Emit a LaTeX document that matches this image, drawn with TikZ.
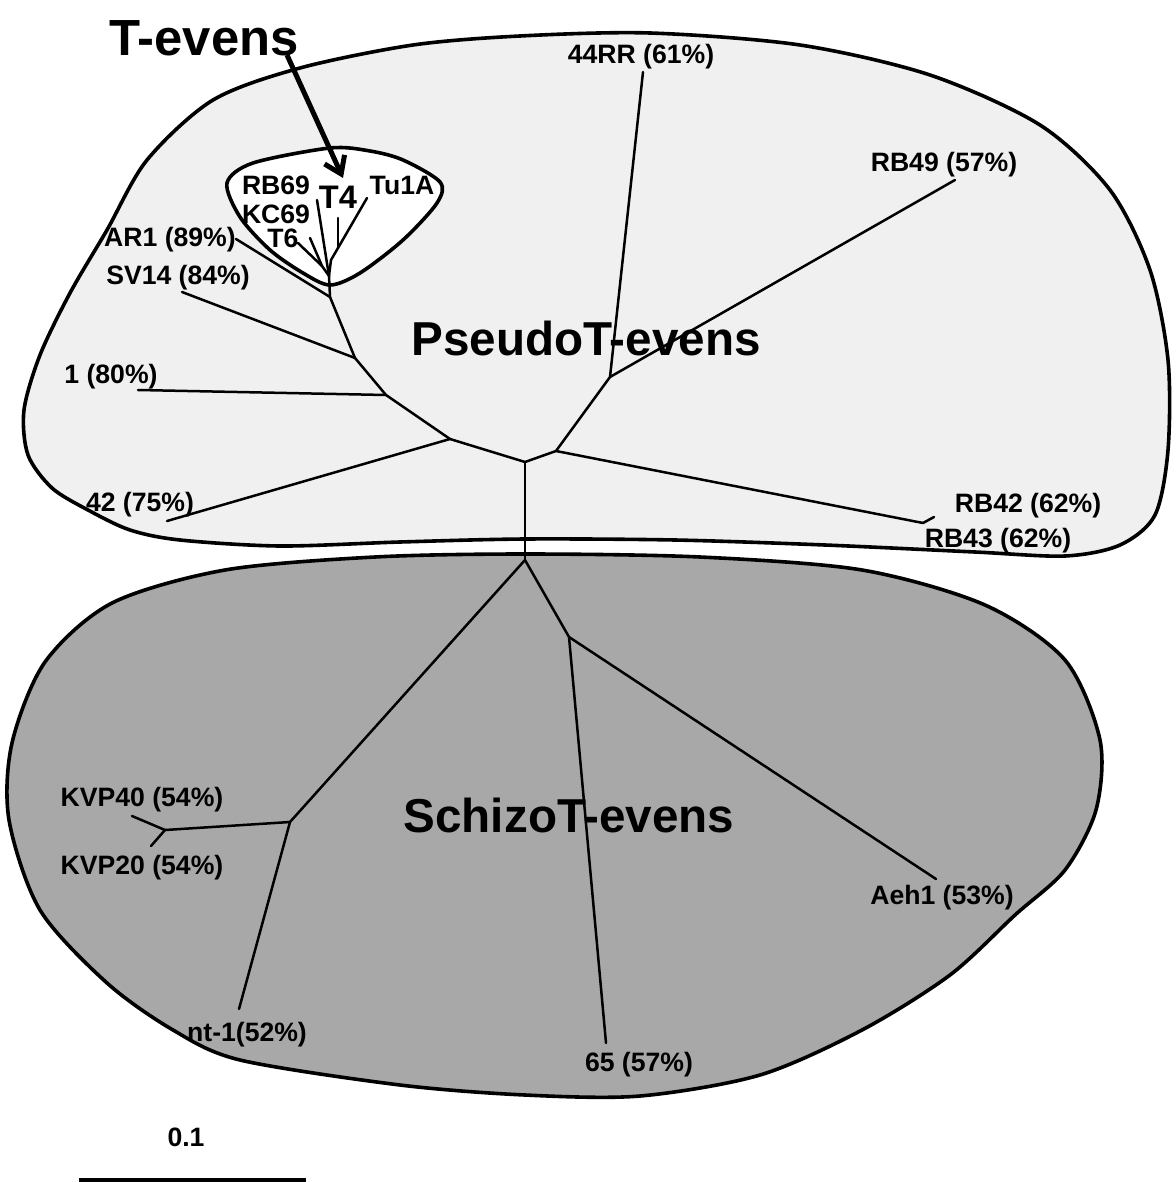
\documentclass[tikz,border=0pt]{standalone}
\usepackage{fontspec}
\setmainfont{Liberation Sans}
\usetikzlibrary{arrows.meta}
\definecolor{pseudofill}{gray}{0.94}
\definecolor{schizofill}{gray}{0.66}
\begin{document}
\begin{tikzpicture}[x=0.5pt,y=-0.5pt,
  branch/.style={line width=1.25pt,line cap=round,line join=round},
  groupline/.style={line width=1.8pt},
  leaf/.style={font=\fontsize{13.3}{15}\selectfont\bfseries,inner sep=0pt},
  clade/.style={font=\fontsize{23.8}{28}\selectfont\bfseries,inner sep=0pt}]
\useasboundingbox (0,0) rectangle (1176,1182);
\fill[white] (0,0) rectangle (1176,1182);
\draw[groupline,fill=schizofill] plot[smooth cycle] coordinates {(525,554) (700,557) (862,570) (985,605) (1065,660) (1100,740) (1096,810) (1065,870) (1015,915) (950,975) (862,1030) (760,1075) (640,1096) (525,1095) (400,1085) (240,1060) (173,1030) (107,983) (40,910) (9,820) (12,743) (45,662) (112,603) (225,570) (375,557)};
\draw[groupline,fill=pseudofill] plot[smooth cycle] coordinates {(147,160) (213,100) (300,68) (413,45) (520,36) (650,33) (800,45) (930,75) (1040,125) (1110,190) (1150,270) (1168,360) (1168,450) (1155,515) (1120,545) (1065,556) (975,552) (825,545) (675,540) (525,539) (400,542) (280,546) (180,540) (130,530) (88,510) (52,488) (28,455) (24,410) (40,355) (70,293) (107,230)};
\draw[groupline,fill=white] plot[smooth cycle] coordinates {(330,148) (253,163) (227,183) (240,217) (270,250) (303,273) (330,285) (360,273) (403,240) (437,203) (440,182) (403,160) (370,151)};
\coordinate (J1) at (525,462);
\coordinate (J2) at (556,451);
\coordinate (J3) at (610,377);
\coordinate (J4) at (923,523);
\coordinate (J5) at (450,439);
\coordinate (J6) at (386,395);
\coordinate (J7) at (355,358);
\coordinate (J8) at (330,297);
\coordinate (J9) at (329,276);
\coordinate (J10) at (322,266);
\coordinate (J11) at (331,260);
\coordinate (J12) at (338,248);
\coordinate (J13) at (525,560);
\coordinate (J14) at (290,822);
\coordinate (J15) at (165,830);
\coordinate (J16) at (569,637);
\coordinate (P44RR) at (643,72);
\coordinate (PRB49) at (955,180);
\coordinate (PRB42) at (934,517);
\coordinate (P42) at (167,521);
\coordinate (P1) at (138,390);
\coordinate (PSV14) at (182,292);
\coordinate (PAR1) at (236,239);
\coordinate (PRB69) at (317,200);
\coordinate (PKC69) at (310,238);
\coordinate (PT6) at (298,243);
\coordinate (PT4) at (338,218);
\coordinate (PTu1A) at (367,198);
\coordinate (PKVP40) at (132,816);
\coordinate (PKVP20) at (151,846);
\coordinate (Pnt1) at (239,1009);
\coordinate (P65) at (606,1043);
\coordinate (PAeh1) at (936,879);
\draw[branch] (J1) -- (J2);
\draw[branch] (J1) -- (J5);
\draw[branch] (J1) -- (J13);
\draw[branch] (J2) -- (J3);
\draw[branch] (J3) -- (P44RR);
\draw[branch] (J3) -- (PRB49);
\draw[branch] (J2) -- (J4);
\draw[branch] (J4) -- (PRB42);
\draw[branch] (J5) -- (P42);
\draw[branch] (J5) -- (J6);
\draw[branch] (J6) -- (P1);
\draw[branch] (J6) -- (J7);
\draw[branch] (J7) -- (PSV14);
\draw[branch] (J7) -- (J8);
\draw[branch] (J8) -- (PAR1);
\draw[branch] (J8) -- (J9);
\draw[branch] (J9) -- (PRB69);
\draw[branch] (J9) -- (J10);
\draw[branch] (J10) -- (PKC69);
\draw[branch] (J10) -- (PT6);
\draw[branch] (J9) -- (J11);
\draw[branch] (J11) -- (J12);
\draw[branch] (J12) -- (PT4);
\draw[branch] (J12) -- (PTu1A);
\draw[branch] (J13) -- (J14);
\draw[branch] (J13) -- (J16);
\draw[branch] (J14) -- (J15);
\draw[branch] (J15) -- (PKVP40);
\draw[branch] (J15) -- (PKVP20);
\draw[branch] (J14) -- (Pnt1);
\draw[branch] (J16) -- (P65);
\draw[branch] (J16) -- (PAeh1);
\node[clade,font=\fontsize{25.4}{30}\selectfont\bfseries] (Tevens) at (204,38) {T-evens};
\node[clade] (Pseudo) at (586,338) {PseudoT-evens};
\node[clade] (Schizo) at (569,815) {SchizoT-evens};
\node[leaf] (lRB69) at (276,185) {RB69};
\node[leaf] (lKC69) at (276,214) {KC69};
\node[leaf] (lT6) at (283,238) {T6};
\node[leaf,font=\fontsize{16.3}{18}\selectfont\bfseries] (lT4) at (338,197) {T4};
\node[leaf] (lTu1A) at (402,185) {Tu1A};
\node[leaf] (lAR1) at (170,240) {AR1 (89\%)};
\node[leaf] (lSV14) at (178,278) {SV14 (84\%)};
\node[leaf] (l1) at (111,377) {1 (80\%)};
\node[leaf] (l42) at (140,505) {42 (75\%)};
\node[leaf] (l44RR) at (641,57) {44RR (61\%)};
\node[leaf] (lRB49) at (944,165) {RB49 (57\%)};
\node[leaf] (lRB42) at (1028,506) {RB42 (62\%)};
\node[leaf] (lRB43) at (998,541) {RB43 (62\%)};
\node[leaf] (lKVP40) at (142,800) {KVP40 (54\%)};
\node[leaf] (lKVP20) at (142,868) {KVP20 (54\%)};
\node[leaf] (lnt1) at (247,1035) {nt-1(52\%)};
\node[leaf] (l65) at (639,1065) {65 (57\%)};
\node[leaf] (lAeh1) at (942,898) {Aeh1 (53\%)};
\node[leaf] (lscale) at (186,1137) {0.1};
\coordinate (Tstart) at (287,55);
\coordinate (Tend) at (343,178);
\draw[line width=2.5pt,-{Straight Barb[length=8pt,width=11pt]}] (Tstart) -- (Tend);
\coordinate (S0) at (79,1180);
\coordinate (S1) at (306,1180);
\draw[line width=1.6pt] (S0) -- (S1);
\end{tikzpicture}
\end{document}
